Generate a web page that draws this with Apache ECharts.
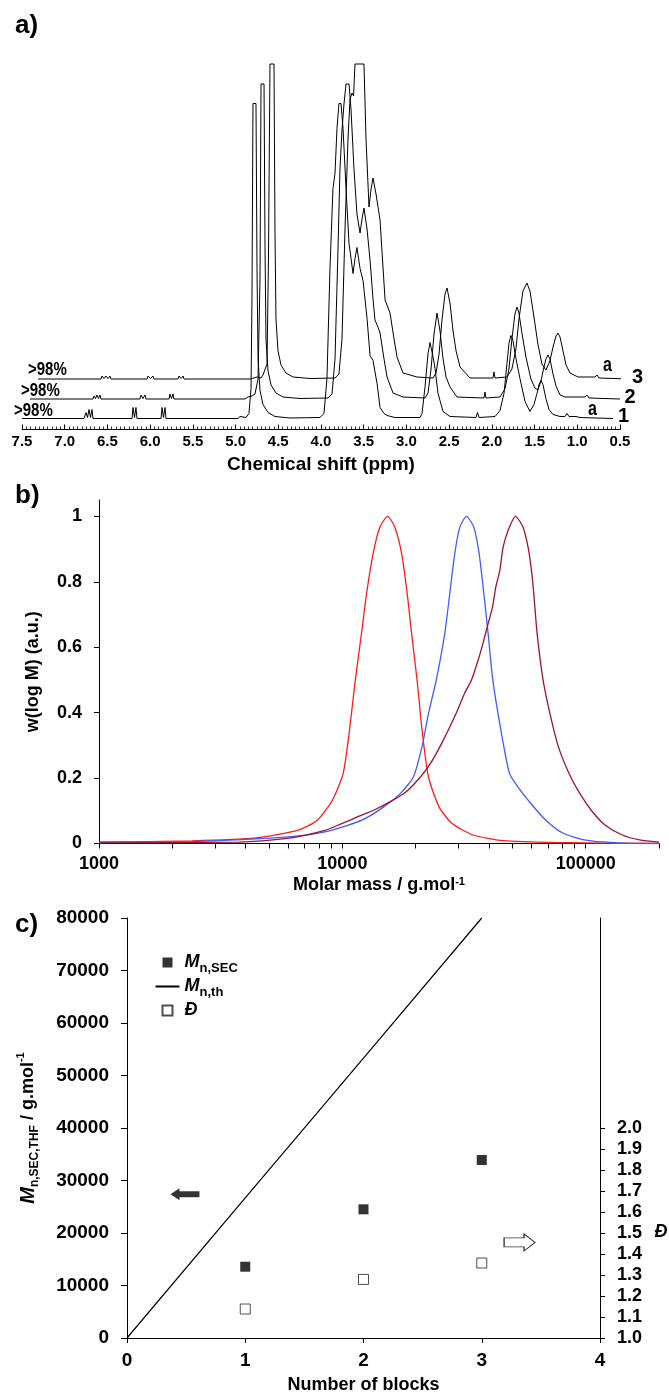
<!DOCTYPE html>
<html><head><meta charset="utf-8">
<script src="https://cdn.jsdelivr.net/npm/echarts@6/dist/echarts.min.js"></script>
<style>html,body{margin:0;padding:0;background:#fff}#c{width:669px;height:1396px}</style>
</head><body><div id="c"></div>
<script>
// ---------- Panel a : 1H NMR spectra, [chemical shift (ppm), intensity above own baseline]
const spec1 = [[7.500,0],[6.774,0],[6.751,6],[6.733,1],[6.716,9],[6.698,1],[6.681,9],[6.669,0],[6.212,0],[6.201,11],[6.183,1],[6.166,11],[6.154,0],[5.873,0],[5.861,11],[5.844,1],[5.826,11],[5.814,0],[4.972,0],[4.948,2],[4.925,0],[4.878,1],[4.843,5],[4.819,30],[4.808,120],[4.796,315],[4.761,315],[4.749,150],[4.737,60],[4.714,28],[4.679,14],[4.620,6],[4.539,2],[4.363,0.5],[4.012,1],[3.965,5],[3.930,40],[3.895,150],[3.860,230],[3.836,245],[3.813,290],[3.790,315],[3.766,315],[3.742,290],[3.707,230],[3.672,175],[3.625,145],[3.602,160],[3.579,171],[3.543,150],[3.508,138],[3.461,100],[3.426,63],[3.391,58],[3.344,35],[3.309,11],[3.262,5],[3.227,3],[3.133,1],[2.841,1],[2.817,5],[2.782,32],[2.747,65],[2.724,76],[2.689,62],[2.665,50],[2.630,25],[2.571,7],[2.490,2],[2.186,1],[2.168,6],[2.150,1],[1.963,2],[1.905,8],[1.858,25],[1.823,55],[1.800,75],[1.777,83],[1.753,78],[1.718,60],[1.671,40],[1.612,17],[1.554,7],[1.507,14],[1.472,25],[1.448,34],[1.425,38],[1.402,34],[1.367,20],[1.331,9],[1.284,4],[1.202,2],[1.144,2],[1.120,5],[1.097,2],[1.015,2],[0.992,4],[0.968,1],[0.582,0]];
const spec2 = [[7.406,0],[6.669,0],[6.657,3],[6.640,0.5],[6.622,4],[6.605,0.5],[6.587,4],[6.575,0],[6.119,0],[6.107,4],[6.084,0.5],[6.060,4],[6.048,0],[5.779,0],[5.768,5],[5.750,0.5],[5.732,5],[5.721,0],[4.890,0],[4.855,2],[4.808,3],[4.773,5],[4.737,20],[4.714,120],[4.702,315],[4.667,315],[4.655,150],[4.644,60],[4.620,28],[4.585,14],[4.527,6],[4.445,2],[4.246,0.5],[3.918,1],[3.871,5],[3.836,40],[3.801,150],[3.778,230],[3.754,269],[3.731,295],[3.707,315],[3.672,315],[3.649,290],[3.614,230],[3.579,185],[3.543,166],[3.520,180],[3.497,191],[3.461,170],[3.426,139],[3.391,100],[3.368,79],[3.333,72],[3.309,66],[3.262,40],[3.227,22],[3.157,6],[3.040,2],[2.782,1],[2.747,6],[2.712,30],[2.677,65],[2.642,86],[2.607,68],[2.571,40],[2.536,22],[2.490,12],[2.408,2],[2.092,1],[2.081,7],[2.069,1],[1.905,2],[1.847,10],[1.800,30],[1.765,60],[1.730,85],[1.706,92],[1.683,86],[1.648,66],[1.601,42],[1.543,20],[1.496,11],[1.461,9],[1.425,18],[1.390,32],[1.367,40],[1.343,44],[1.320,40],[1.284,25],[1.249,13],[1.202,4],[1.144,2],[1.050,2],[1.027,4],[1.003,2],[0.910,2],[0.886,4],[0.863,1],[0.500,0]];
const spec3 = [[7.313,0],[6.575,0],[6.564,3],[6.540,0.5],[6.517,3],[6.493,0.5],[6.470,3],[6.458,0],[6.037,0],[6.025,3],[5.996,0.5],[5.967,3],[5.955,0],[5.674,0],[5.662,3],[5.639,0.5],[5.615,3],[5.604,0],[4.831,0],[4.749,2],[4.726,4],[4.702,1],[4.679,4],[4.656,2],[4.632,15],[4.615,120],[4.597,315],[4.550,315],[4.539,150],[4.527,60],[4.503,28],[4.468,14],[4.410,6],[4.328,2],[4.129,0.5],[3.836,1],[3.790,5],[3.754,40],[3.719,150],[3.684,240],[3.660,280],[3.637,286],[3.619,283],[3.602,315],[3.497,315],[3.473,240],[3.438,172],[3.414,190],[3.391,201],[3.356,185],[3.309,159],[3.250,79],[3.192,66],[3.145,40],[3.110,22],[3.040,6],[2.876,2],[2.688,1],[2.653,6],[2.618,25],[2.583,60],[2.548,85],[2.524,91],[2.489,75],[2.454,48],[2.419,28],[2.372,12],[2.256,1],[1.987,1],[1.975,7],[1.963,1],[1.823,2],[1.765,10],[1.718,30],[1.683,60],[1.636,88],[1.589,96],[1.554,88],[1.507,62],[1.461,35],[1.414,15],[1.367,9],[1.320,18],[1.284,32],[1.249,43],[1.226,46],[1.202,42],[1.167,28],[1.132,14],[1.085,6],[0.992,2],[0.933,2],[0.910,4],[0.886,2],[0.793,2],[0.769,4],[0.746,1],[0.406,0]];
const specLabels = ['1', '2', '3'];
const conversionLabel = '>98%';

// ---------- Panel b : SEC traces, molar mass (g/mol) and normalised w(log M)
const massRed  = [1000, 2410, 4410, 6600, 7910, 9110, 10080, 10700, 11300, 11990, 12580, 13380, 14260, 15340, 16430, 17510, 18460, 19240, 20270, 21250, 22580, 24960, 28170, 34450, 45710, 74190, 200000];
const wRed     = [0.004, 0.008, 0.017, 0.041, 0.072, 0.133, 0.215, 0.347, 0.5, 0.643, 0.765, 0.887, 0.967, 1.0, 0.967, 0.887, 0.765, 0.643, 0.5, 0.347, 0.204, 0.112, 0.062, 0.026, 0.009, 0.003, 0.0];
const massBlue = [1000, 2410, 4410, 6600, 9110, 12080, 14780, 17370, 19590, 21250, 22580, 24320, 26360, 27640, 28970, 30380, 32370, 34670, 36460, 38110, 39700, 41510, 44800, 48560, 52620, 59380, 68380, 80400, 98300, 135700, 200000];
const wBlue    = [0.004, 0.006, 0.014, 0.023, 0.041, 0.072, 0.112, 0.154, 0.204, 0.296, 0.397, 0.5, 0.643, 0.765, 0.887, 0.967, 1.0, 0.967, 0.887, 0.765, 0.643, 0.5, 0.347, 0.215, 0.173, 0.123, 0.072, 0.032, 0.011, 0.002, 0.0];
const massDark = [1000, 3750, 5180, 6600, 8400, 9880, 11600, 13640, 16020, 18080, 20400, 23030, 25990, 29340, 31790, 33930, 36120, 38110, 39700, 41400, 42700, 44360, 45760, 47970, 51440, 55260, 57940, 59840, 61150, 63100, 66770, 71240, 77180, 85390, 94500, 106500, 120300, 141400, 166200, 200000];
const wDark    = [0.002, 0.004, 0.011, 0.021, 0.039, 0.060, 0.082, 0.104, 0.131, 0.155, 0.194, 0.245, 0.316, 0.398, 0.459, 0.5, 0.56, 0.621, 0.672, 0.723, 0.784, 0.835, 0.906, 0.957, 1.0, 0.967, 0.906, 0.835, 0.765, 0.643, 0.5, 0.398, 0.296, 0.214, 0.153, 0.097, 0.056, 0.026, 0.011, 0.004];
const massTickValues  = [1000,2000,3000,4000,5000,6000,7000,8000,9000,10000,20000,30000,40000,50000,60000,70000,80000,90000,100000,200000];
const massLabelValues = [1000, 10000, 100000];
const wTickValues = [0, 0.2, 0.4, 0.6, 0.8, 1];

// ---------- Panel c : molar mass and dispersity vs number of blocks
const blocks     = [1, 2, 3];
const mnSec      = [13580, 24510, 33900];
const dispersity = [1.138, 1.279, 1.357];
const thBlocks   = [0, 1, 2, 3];
const mnTh       = [0, 26700, 53300, 80000];
const dispTickValues = [1.0,1.1,1.2,1.3,1.4,1.5,1.6,1.7,1.8,1.9,2.0];
const arrowLeftAt  = [0.49, 27400];   // arrow pointing to the left axis
const arrowRightAt = [3.32, 1.455];   // arrow pointing to the right axis

// ---------- layout / style constants
const FONT = 'Liberation Sans, Arial, Helvetica, sans-serif';
const stackOffsets = [0, 19.5, 39.5];
const bold = (size, extra) => Object.assign({fontFamily: FONT, fontSize: size, fontWeight: 'bold', color: '#000'}, extra || {});
const zip = (a, b) => a.map((v, i) => [v, b[i]]);

const chart = echarts.init(document.getElementById('c'), null, {renderer: 'canvas'});

const nmrSeries = [spec1, spec2, spec3].map((s, i) => ({
  type: 'line', xAxisIndex: 0, yAxisIndex: 0, clip: false, silent: true,
  symbol: 'none', showSymbol: false,
  lineStyle: {color: '#000', width: 1},
  data: s.map(p => [p[0], p[1] + stackOffsets[i]])
}));

const secSeries = [
  {m: massRed, w: wRed, c: '#ff1a1a'},
  {m: massBlue, w: wBlue, c: '#3c5cff'},
  {m: massDark, w: wDark, c: '#9b1430'}
].map(s => ({
  type: 'line', xAxisIndex: 1, yAxisIndex: 1, silent: true,
  symbol: 'none', showSymbol: false, smooth: 0.22,
  lineStyle: {color: s.c, width: 1.3},
  data: zip(s.m, s.w)
}));

const labelText = (x, y, text, size, extra) => ({
  type: 'text', x: x, y: y, scaleY: (extra && extra.scaleY) || 1,
  style: Object.assign({text: text, font: 'bold ' + size + 'px ' + FONT, fill: '#000', align: 'left', verticalAlign: 'middle'}, (extra && extra.style) || {})
});

const option = {
  animation: false,
  textStyle: {fontFamily: FONT},
  title: [
    {text: 'a)', left: 15, top: 13, padding: 0, textStyle: bold(26)},
    {text: 'b)', left: 15, top: 483, padding: 0, textStyle: bold(26)},
    {text: 'c)', left: 15, top: 912, padding: 0, textStyle: bold(26)}
  ],
  grid: [
    {left: 22, right: 49, top: 18.5, height: 411, containLabel: false, outerBoundsMode: 'none'},
    {left: 99, right: 10, top: 500, bottom: 552.5, containLabel: false, outerBoundsMode: 'none'},
    {left: 127, right: 69, top: 918, bottom: 58, containLabel: false, outerBoundsMode: 'none'}
  ],
  xAxis: [
    {
      gridIndex: 0, type: 'value', inverse: true, min: 0.5, max: 7.5, interval: 0.5,
      axisLine: {onZero: false, lineStyle: {color: '#000', width: 1}},
      axisTick: {inside: true, length: 5, lineStyle: {color: '#000', width: 1}},
      minorTick: {show: true, splitNumber: 10, length: 3, lineStyle: {color: '#000', width: 0.8}},
      splitLine: {show: false},
      axisLabel: Object.assign(bold(15), {margin: 5, formatter: v => v.toFixed(1)}),
      name: 'Chemical shift (ppm)', nameLocation: 'middle', nameGap: 26,
      nameTextStyle: bold(19)
    },
    {
      gridIndex: 1, type: 'log', logBase: 10, min: 1000, max: 200000,
      axisLine: {onZero: false, lineStyle: {color: '#000', width: 1}},
      axisTick: {show: true, length: 5, customValues: massTickValues, lineStyle: {color: '#000'}},
      minorTick: {show: false}, splitLine: {show: false},
      axisLabel: Object.assign(bold(18), {margin: 12, customValues: massLabelValues, formatter: v => String(Math.round(v))}),
      name: '{t|Molar mass / g.mol}{sup|-1}', nameLocation: 'middle', nameGap: 33,
      nameTextStyle: bold(18, {rich: {t: bold(18), sup: bold(11, {verticalAlign: 'top'})}})
    },
    {
      gridIndex: 2, type: 'value', min: 0, max: 4, interval: 1,
      axisLine: {onZero: false, lineStyle: {color: '#000', width: 1}},
      axisTick: {show: true, length: 5, lineStyle: {color: '#000'}},
      splitLine: {show: false},
      axisLabel: Object.assign(bold(19), {margin: 13}),
      name: 'Number of blocks', nameLocation: 'middle', nameGap: 38,
      nameTextStyle: bold(18)
    }
  ],
  yAxis: [
    {gridIndex: 0, type: 'value', min: -11, max: 400, show: false},
    {
      gridIndex: 1, type: 'value', min: 0, max: 1.05,
      axisLine: {show: true, onZero: false, lineStyle: {color: '#000', width: 1}},
      axisTick: {show: true, length: 5, customValues: wTickValues, lineStyle: {color: '#000'}},
      splitLine: {show: false},
      axisLabel: Object.assign(bold(18), {margin: 17, customValues: wTickValues, formatter: v => (v === 0 || v === 1) ? String(v) : v.toFixed(1)}),
      name: 'w(log M) (a.u.)', nameLocation: 'middle', nameRotate: 90, nameGap: 57,
      nameTextStyle: bold(18)
    },
    {
      gridIndex: 2, type: 'value', min: 0, max: 80000, interval: 10000,
      axisLine: {show: true, onZero: false, lineStyle: {color: '#000', width: 1}},
      axisTick: {show: true, length: 6, lineStyle: {color: '#000'}},
      splitLine: {show: false},
      axisLabel: Object.assign(bold(19), {margin: 18, formatter: v => String(v)}),
      name: '{mi|M}{sub|n,SEC,THF}{t| / g.mol}{sup|-1}', nameLocation: 'middle', nameRotate: 90, nameGap: 86,
      nameTextStyle: bold(18, {rich: {
        mi: bold(20, {fontStyle: 'italic', lineHeight: 26, verticalAlign: 'middle'}),
        sub: bold(12, {lineHeight: 26, verticalAlign: 'bottom'}),
        t: bold(18, {lineHeight: 26, verticalAlign: 'middle'}),
        sup: bold(11, {lineHeight: 26, verticalAlign: 'top'})
      }})
    },
    {
      gridIndex: 2, type: 'value', position: 'right', min: 1, max: 3,
      axisLine: {show: true, onZero: false, lineStyle: {color: '#000', width: 1}},
      axisTick: {show: true, length: 5, customValues: dispTickValues, lineStyle: {color: '#000'}},
      splitLine: {show: false},
      axisLabel: Object.assign(bold(18), {margin: 17, customValues: dispTickValues, formatter: v => v.toFixed(1)})
    }
  ],
  legend: {
    orient: 'vertical', left: 154.5, top: 950.5, itemWidth: 24, itemHeight: 10, itemGap: 0, padding: 0,
    symbolKeepAspect: true, selectedMode: false,
    textStyle: bold(18, {lineHeight: 24, rich: {
      mi: bold(18, {fontStyle: 'italic', lineHeight: 24}),
      sub: bold(13, {lineHeight: 24, verticalAlign: 'bottom'})
    }}),
    formatter: n => n === 'Mn,SEC' ? '{mi|M}{sub|n,SEC}' : n === 'Mn,th' ? '{mi|M}{sub|n,th}' : '{mi|Đ}',
    data: [
      {name: 'Mn,SEC', icon: 'path://M0,0H10V10H0Z'},
      {name: 'Mn,th', itemStyle: {opacity: 0}},
      {name: 'Đ', icon: 'path://M0,0H10V10H0Z'}
    ]
  },
  graphic: [
    labelText(28, 370, conversionLabel, 15, {scaleY: 1.2}),
    labelText(21, 391, conversionLabel, 15, {scaleY: 1.2}),
    labelText(14, 411, conversionLabel, 15, {scaleY: 1.2}),
    labelText(592.5, 409, 'a', 16, {scaleY: 1.3, style: {align: 'center'}}),
    labelText(607.5, 365, 'a', 16, {scaleY: 1.3, style: {align: 'center'}}),
    labelText(623.5, 416, specLabels[0], 20, {style: {align: 'center'}}),
    labelText(630, 397, specLabels[1], 20, {style: {align: 'center'}}),
    labelText(637.5, 377, specLabels[2], 20, {style: {align: 'center'}}),
    labelText(661, 1232, 'Đ', 18, {style: {align: 'center', font: 'italic bold 18px ' + FONT}})
  ],
  series: [
    ...nmrSeries,
    ...secSeries,
    {
      name: 'Mn,th', type: 'line', xAxisIndex: 2, yAxisIndex: 2, clip: false, silent: true,
      symbol: 'none', showSymbol: false, lineStyle: {color: '#000', width: 1.2},
      itemStyle: {color: '#000'},
      data: zip(thBlocks, mnTh)
    },
    {
      name: 'Mn,SEC', type: 'scatter', xAxisIndex: 2, yAxisIndex: 2, silent: true,
      symbol: 'rect', symbolSize: 10, itemStyle: {color: '#000'},
      data: zip(blocks, mnSec)
    },
    {
      name: 'Đ', type: 'scatter', xAxisIndex: 2, yAxisIndex: 3, silent: true,
      symbol: 'rect', symbolSize: 10, itemStyle: {color: '#fff', borderColor: '#222', borderWidth: 1},
      data: zip(blocks, dispersity)
    },
    {
      type: 'scatter', xAxisIndex: 2, yAxisIndex: 2, silent: true,
      symbol: 'path://M0,6L9,0L9,3L29,3L29,9L9,9L9,12Z', symbolSize: [29, 12], symbolKeepAspect: false,
      itemStyle: {color: '#000'}, data: [arrowLeftAt]
    },
    {
      type: 'scatter', xAxisIndex: 2, yAxisIndex: 3, silent: true,
      symbol: 'path://M0,4L20,4L20,0L31,8.5L20,17L20,13L0,13Z', symbolSize: [31, 17], symbolKeepAspect: false,
      itemStyle: {color: '#fff', borderColor: '#000', borderWidth: 1}, data: [arrowRightAt]
    }
  ]
};
chart.setOption(option);
</script></body></html>
